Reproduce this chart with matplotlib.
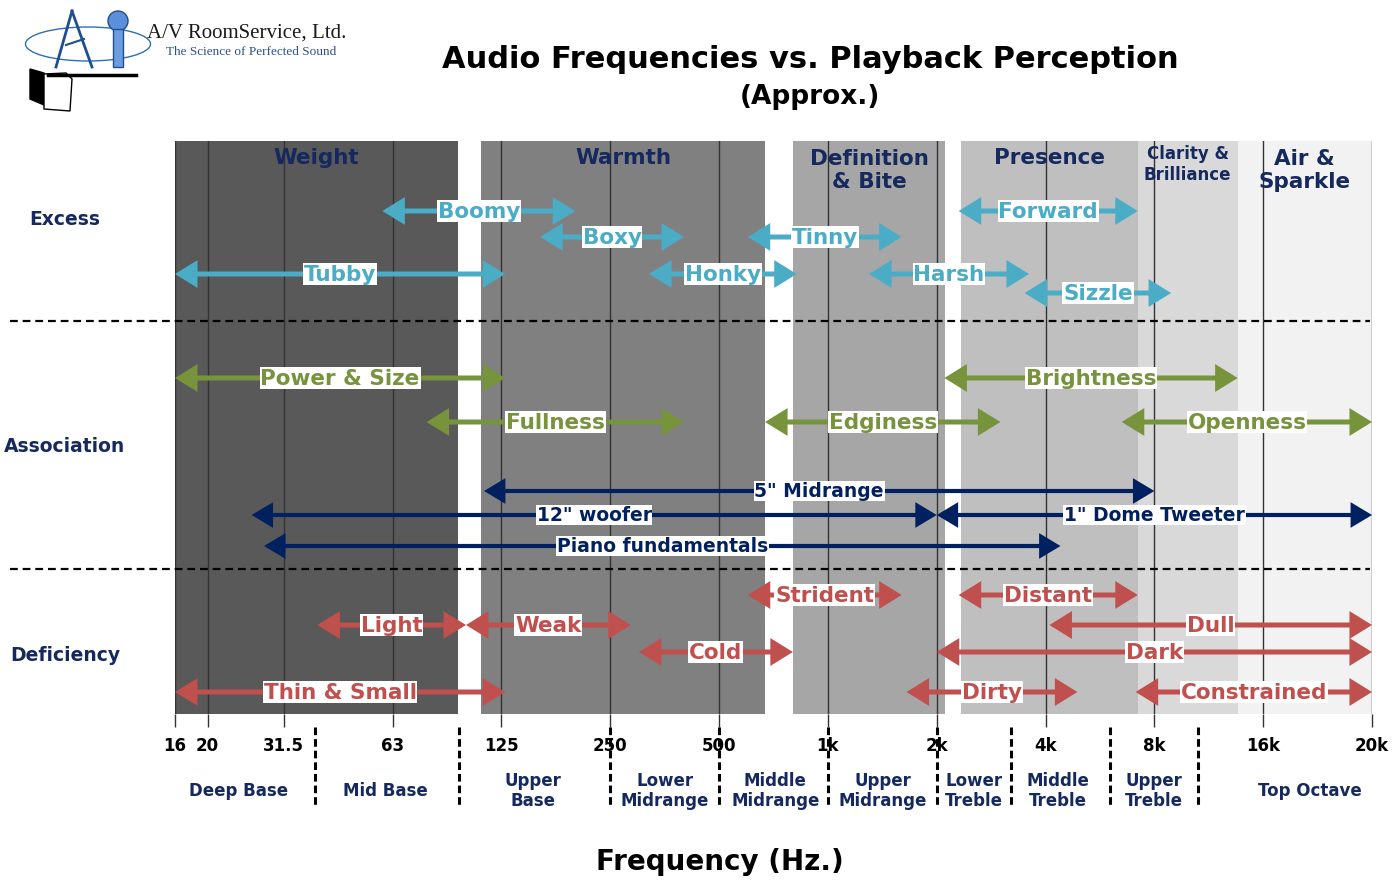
import numpy as np
import matplotlib
matplotlib.use("Agg")
import matplotlib.pyplot as plt
import matplotlib.transforms as mtransforms
from matplotlib.patches import Ellipse, Rectangle, Circle, Polygon
from matplotlib.ticker import NullLocator

plt.rcParams['font.family'] = ['DejaVu Sans']

# ---------------- data ----------------
tick_freqs = [16, 20, 31.5, 63, 125, 250, 500, 1000, 2000, 4000, 8000, 16000, 20000]
tick_labels = ['16', '20', '31.5', '63', '125', '250', '500', '1k', '2k', '4k', '8k', '16k', '20k']

band_names = ['Weight', 'Warmth', 'Definition\n& Bite', 'Presence', 'Clarity &\nBrilliance', 'Air &\nSparkle']
band_lo = [16, 110, 800, 2330, 7200, 13600]
band_hi = [95, 670, 2110, 7200, 13600, 20000]

excess_labels = ['Boomy', 'Boxy', 'Tinny', 'Tubby', 'Honky', 'Harsh', 'Forward', 'Sizzle']
excess_lo = [59, 160, 600, 16, 320, 1300, 2300, 3500]
excess_hi = [200, 400, 1600, 128, 820, 3600, 7200, 8900]
excess_row = [212, 238, 238, 275, 275, 275, 212, 294]

assoc_labels = ['Power & Size', 'Fullness', 'Edginess', 'Brightness', 'Openness']
assoc_lo = [16, 78, 670, 2100, 6500]
assoc_hi = [128, 400, 3000, 13600, 20000]
assoc_row = [379, 423, 423, 379, 423]

driver_labels = ['5" Midrange', '12" woofer', '1" Dome Tweeter', 'Piano fundamentals']
driver_lo = [112, 26, 2000, 28]
driver_hi = [8000, 2000, 20000, 4400]
driver_row = [492, 516, 516, 547]

defic_labels = ['Strident', 'Distant', 'Light', 'Weak', 'Dull', 'Cold', 'Dark', 'Thin & Small', 'Dirty', 'Constrained']
defic_lo = [600, 2300, 39, 100, 4100, 300, 2000, 16, 1650, 7100]
defic_hi = [1600, 7200, 100, 285, 20000, 800, 20000, 128, 4900, 20000]
defic_row = [596, 596, 626, 626, 626, 653, 653, 693, 693, 693]

region_labels = ['Deep Base', 'Mid Base', 'Upper\nBase', 'Lower\nMidrange', 'Middle\nMidrange',
                 'Upper\nMidrange', 'Lower\nTreble', 'Middle\nTreble', 'Upper\nTreble', 'Top Octave']
region_label_freq = [24, 60, 153, 354, 715, 1420, 2540, 4340, 8000, 17600]
region_separators = [38.4, 95.6, 250, 500, 1000, 2000, 3210, 6040, 10580]

section_names = ['Excess', 'Association', 'Deficiency']
section_rows = [220, 447, 656]
divider_rows = [322, 570]

# ---------------- styles ----------------
band_colors = ['#595959', '#808080', '#a6a6a6', '#bfbfbf', '#d9d9d9', '#f2f2f2']
CYAN = '#4bacc6'
GREEN = '#77933c'
RED = '#c0504d'
NAVY = '#002060'
TXTNAVY = '#15295e'

# axis mapping (octave-like positions of the tick frequencies)
POS = np.array([0, 0.3, 1, 2, 3, 4, 5, 6, 7, 8, 9, 10, 11], float)
LT = np.log(np.array(tick_freqs, float))
s0 = (POS[1] - POS[0]) / (LT[1] - LT[0])
s1 = (POS[-1] - POS[-2]) / (LT[-1] - LT[-2])


def fwd(f):
    lf = np.log(np.clip(np.asarray(f, float), 1e-12, None))
    out = np.interp(lf, LT, POS)
    out = np.where(lf < LT[0], POS[0] + (lf - LT[0]) * s0, out)
    out = np.where(lf > LT[-1], POS[-1] + (lf - LT[-1]) * s1, out)
    return out


def inv(p):
    p = np.asarray(p, float)
    lf = np.interp(p, POS, LT)
    lf = np.where(p < POS[0], LT[0] + (p - POS[0]) / s0, lf)
    lf = np.where(p > POS[-1], LT[-1] + (p - POS[-1]) / s1, lf)
    return np.exp(lf)


def mid(a, b):
    return float(inv((fwd(a) + fwd(b)) / 2.0))


W, H = 1396, 887
fig = plt.figure(figsize=(W / 100, H / 100), dpi=100)
ax = fig.add_axes([175 / W, 1 - 715 / H, (1372 - 175) / W, (715 - 142) / H])
ax.set_xscale('function', functions=(fwd, inv))
ax.set_xlim(16, 20000)
ax.set_ylim(715, 142)
for s in ax.spines.values():
    s.set_visible(False)
ax.set_yticks([])
ax.xaxis.set_minor_locator(NullLocator())
ax.set_xticks(tick_freqs)
ax.set_xticklabels(tick_labels, fontsize=12, fontweight='bold')
ax.tick_params(axis='x', length=9, width=1, color='#333333', pad=7)

# bands
for lo, hi, c, name in zip(band_lo, band_hi, band_colors, band_names):
    ax.axvspan(lo, hi, color=c, zorder=0, lw=0)
    two = '\n' in name
    small = name.startswith('Clarity')
    yy = 164.5 if small else (170.5 if two else 158)
    ax.text(mid(lo, hi), yy, name, ha='center', va='center', color=TXTNAVY,
            fontsize=12 if small else 15.5, fontweight='bold', zorder=5,
            linespacing=1.15 if small else 1.2)

# vertical grid lines
for f in tick_freqs:
    ax.axvline(f, color='#333333', lw=1, zorder=1)

# dashed dividers
blend = mtransforms.blended_transform_factory(fig.transFigure, ax.transData)
for r in divider_rows:
    ax.plot([10 / W, 1370 / W], [r, r], transform=blend, color='black', lw=1.6,
            ls=(0, (3.5, 2.2)), clip_on=False, zorder=2)

# section names
for n, r in zip(section_names, section_rows):
    ax.text(65 / W, r, n, transform=blend, ha='center', va='center', color=TXTNAVY,
            fontsize=13.5, fontweight='bold')


def draw_group(labels, los, his, rows, color, lw, fs, hl, hw):
    for lab, lo, hi, r in zip(labels, los, his, rows):
        ax.annotate('', xy=(hi, r), xytext=(lo, r),
                    arrowprops=dict(arrowstyle=f'<|-|>,head_length={hl},head_width={hw}',
                                    color=color, lw=lw, shrinkA=0, shrinkB=0,
                                    mutation_scale=20, joinstyle='miter', capstyle='butt'),
                    zorder=3, annotation_clip=False)
        ax.text(mid(lo, hi), r, lab, ha='center', va='center', color=color,
                fontsize=fs, fontweight='bold', zorder=4,
                bbox=dict(boxstyle='square,pad=0.04', fc='white', ec='none'))


draw_group(excess_labels, excess_lo, excess_hi, excess_row, CYAN, 3.6, 15.5, 0.55, 0.34)
draw_group(assoc_labels, assoc_lo, assoc_hi, assoc_row, GREEN, 3.6, 15.5, 0.55, 0.34)
draw_group(driver_labels, driver_lo, driver_hi, driver_row, NAVY, 3.0, 13.5, 0.55, 0.33)
draw_group(defic_labels, defic_lo, defic_hi, defic_row, RED, 3.6, 15.5, 0.55, 0.34)

# region separators & labels below axis
for f in region_separators:
    ax.plot([f, f], [728, 808], color='black', lw=2.2, ls=(0, (2.5, 1.3)),
            clip_on=False, zorder=2)
for lab, f in zip(region_labels, region_label_freq):
    ax.text(f, 791, lab, ha='center', va='center', color=TXTNAVY, fontsize=12,
            fontweight='bold', clip_on=False, linespacing=1.1)

# titles
fig.text(810 / W, 1 - 60 / H, 'Audio Frequencies vs. Playback Perception', ha='center',
         va='center', fontsize=22, fontweight='bold', color='black')
fig.text(810 / W, 1 - 97 / H, '(Approx.)', ha='center', va='center', fontsize=19,
         fontweight='bold', color='black')
fig.text(720 / W, 1 - 862 / H, 'Frequency (Hz.)', ha='center', va='center', fontsize=20,
         fontweight='bold', color='black')

# logo (decorative)
lax = fig.add_axes([0, 0, 1, 1], zorder=-1)
lax.set_xlim(0, W)
lax.set_ylim(H, 0)
lax.axis('off')
lax.add_patch(Ellipse((88, 45), 125, 34, fill=False, ec='#2f6fb5', lw=1))
lax.plot([72, 56], [12, 68], color='#1f4e8f', lw=2)
lax.plot([72, 92], [12, 68], color='#1f4e8f', lw=2)
lax.plot([66, 84], [46, 40], color='#1f4e8f', lw=1.5)
lax.add_patch(Circle((118, 22), 10, fc='#5b8fd9', ec='#1f4e8f', lw=1))
lax.add_patch(Rectangle((113, 30), 10, 38, fc='#6d9de0', ec='#1f4e8f', lw=1))
lax.plot([48, 136], [76, 76], color='black', lw=2.5)
lax.add_patch(Polygon([[30, 70], [44, 74], [44, 106], [30, 100]], fc='black', ec='black'))
lax.add_patch(Polygon([[44, 75], [66, 74], [72, 80], [70, 112], [44, 110]], fc='white',
                      ec='black', lw=1))
fig.text(147 / W, 1 - 33 / H, 'A/V RoomService, Ltd.', ha='left', va='center',
         fontsize=15, family='Liberation Serif', color='#1a1a1a')
fig.text(166 / W, 1 - 52 / H, 'The Science of Perfected Sound', ha='left', va='center',
         fontsize=9.5, family='Liberation Serif', color='#2e4f8f')

fig.savefig('out.png', dpi=100)
